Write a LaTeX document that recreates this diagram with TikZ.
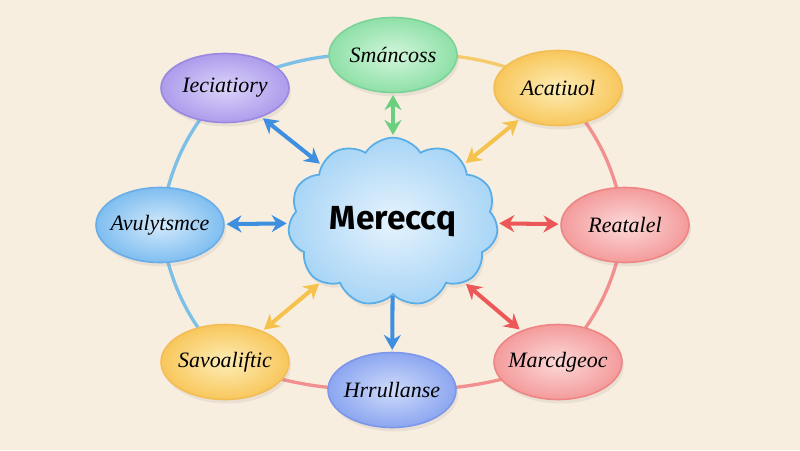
\documentclass[tikz,border=0pt]{standalone}
\usepackage{fontspec}
\setmainfont{Liberation Serif}
\setsansfont{Fira Sans}
\usetikzlibrary{shapes.geometric,shapes.symbols,arrows.meta,shadows}

\definecolor{paper}{HTML}{F8EEDF}
\definecolor{purpleout}{HTML}{AD9CEC}
\definecolor{purplein}{HTML}{DCD3FA}
\definecolor{purpleline}{HTML}{9A88E0}
\definecolor{greenout}{HTML}{8FE0A7}
\definecolor{greenin}{HTML}{D2F6DB}
\definecolor{greenline}{HTML}{7CD399}
\definecolor{yellowout}{HTML}{F8C75C}
\definecolor{yellowin}{HTML}{FDEDB6}
\definecolor{yellowline}{HTML}{F2BD55}
\definecolor{blueout}{HTML}{7FBEF0}
\definecolor{bluein}{HTML}{D3E9FB}
\definecolor{blueline}{HTML}{68ADE8}
\definecolor{redout}{HTML}{F49B9B}
\definecolor{redin}{HTML}{FCD9D9}
\definecolor{redline}{HTML}{EE8585}
\definecolor{periout}{HTML}{8CA6F0}
\definecolor{periin}{HTML}{CFDBFB}
\definecolor{periline}{HTML}{7C97EA}
\definecolor{cloudout}{HTML}{A8D5F6}
\definecolor{cloudin}{HTML}{E6F3FD}
\definecolor{cloudline}{HTML}{5AAEE8}
\definecolor{ringblue}{HTML}{7CC0E8}
\definecolor{ringyellow}{HTML}{F6CB6E}
\definecolor{ringred}{HTML}{F29090}
\definecolor{arrblue}{HTML}{3F8FE0}
\definecolor{arrgreen}{HTML}{6BCF80}
\definecolor{arryellow}{HTML}{F6C24E}
\definecolor{arrred}{HTML}{EC5858}

\tikzset{
  topic/.style={ellipse, draw, line width=0.9pt, minimum width=2.56cm, minimum height=1.5cm,
    inner xsep=-0.15cm, inner ysep=1pt, font=\itshape\fontsize{12.5}{15}\selectfont,
    drop shadow={opacity=0.12, shadow xshift=0.4mm, shadow yshift=-0.8mm}},
  purpletopic/.style={topic, draw=purpleline, inner color=purplein, outer color=purpleout},
  greentopic/.style={topic, draw=greenline, inner color=greenin, outer color=greenout},
  yellowtopic/.style={topic, draw=yellowline, inner color=yellowin, outer color=yellowout},
  bluetopic/.style={topic, draw=blueline, inner color=bluein, outer color=blueout},
  redtopic/.style={topic, draw=redline, inner color=redin, outer color=redout},
  peritopic/.style={topic, draw=periline, inner color=periin, outer color=periout},
  hub/.style={cloud, cloud puffs=11, cloud puff arc=115, aspect=1.35, draw=cloudline, line width=1pt,
    inner color=cloudin, outer color=cloudout, minimum width=4.2cm, minimum height=3.1cm,
    font=\sffamily\fontsize{19}{22}\selectfont\bfseries,
    drop shadow={opacity=0.12, shadow xshift=0.4mm, shadow yshift=-0.8mm}},
  ring/.style={line width=1.9pt, line cap=round},
  link/.style={line width=2.3pt, {Stealth[length=3mm,width=3.4mm]}-{Stealth[length=3mm,width=3.4mm]},
    shorten <=1pt, shorten >=1pt},
  onelink/.style={line width=2.3pt, -{Stealth[length=3mm,width=3.4mm]}, shorten >=1pt}
}

\begin{document}
\begin{tikzpicture}[x=0.02cm,y=-0.02cm]
    \fill[paper] (0,0) rectangle (800,450);
    \useasboundingbox (0,0) rectangle (800,450);

    % outer ring, drawn first so the bubbles sit on top
    \coordinate (r1) at (225,88);
    \coordinate (r2) at (393,55);
    \coordinate (r3) at (558,88);
    \coordinate (r4) at (625,225);
    \coordinate (r5) at (558,362);
    \coordinate (r6) at (392,390);
    \coordinate (r7) at (225,362);
    \coordinate (r8) at (160,225);
    \draw[ring, ringblue] (r1) to[bend left=14] (r2);
    \draw[ring, ringyellow] (r2) to[bend left=14] (r3);
    \draw[ring, ringred] (r3) to[bend left=16] (r4);
    \draw[ring, ringred] (r4) to[bend left=16] (r5);
    \draw[ring, ringred] (r5) to[bend left=10] (r6);
    \draw[ring, ringred] (r6) to[bend left=10] (r7);
    \draw[ring, ringblue] (r7) to[bend left=16] (r8);
    \draw[ring, ringblue] (r8) to[bend left=16] (r1);

    \node[hub] (hub) at (393,222) {Mereccq};

    \node[purpletopic, minimum height=1.38cm] (iecia) at (r1) {Ieciatiory};
    \node[greentopic] (smanc) at (r2) {Smáncoss};
    \node[yellowtopic] (acati) at (r3) {Acatiuol};
    \node[redtopic] (reata) at (r4) {Reatalel};
    \node[redtopic] (marcd) at (r5) {Marcdgeoc};
    \node[peritopic] (hrrul) at (r6) {Hrrullanse};
    \node[yellowtopic] (savoa) at (r7) {Savoaliftic};
    \node[bluetopic] (avuly) at (r8) {Avulytsmce};

    % spokes
    \draw[link, arrblue] (iecia) -- (hub);
    \draw[link, arrgreen] (smanc) -- (hub);
    \draw[link, arryellow] (acati) -- (hub);
    \draw[link, arrblue] (avuly) -- (hub);
    \draw[link, arrred] (reata) -- (hub);
    \draw[link, arryellow] (savoa) -- (hub);
    \draw[link, arrred] (marcd) -- (hub);
    \draw[onelink, arrblue] (hub) -- (hrrul);
\end{tikzpicture}
\end{document}
